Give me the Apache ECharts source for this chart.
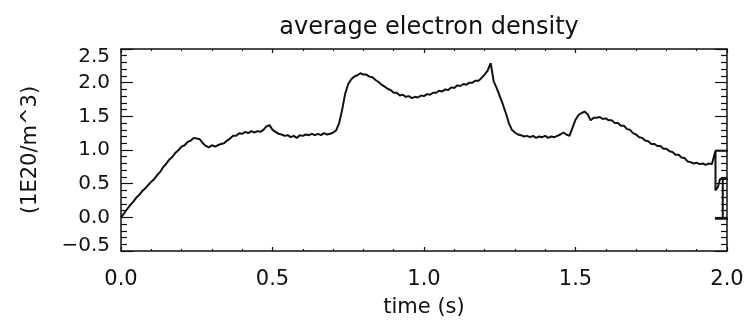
<!DOCTYPE html>
<html><head><meta charset="utf-8">
<script src="https://cdn.jsdelivr.net/npm/echarts@6/dist/echarts.min.js"></script>
<style>html,body{margin:0;padding:0;background:#fff}#c{width:750px;height:324px}</style>
</head><body><div id="c"></div>
<script>
const titleText = 'average electron density';
const xName = 'time (s)';
const yName = '(1E20/m^3)';
const xTickLabels = ['0.0', '0.5', '1.0', '1.5', '2.0'];
const timeStart = 0.0;
const timeStep = 0.01;
const density = [
 0.00,0.06,0.12,0.18,0.23,0.29,0.33,0.39,0.43,0.48,
 0.53,0.57,0.63,0.68,0.75,0.80,0.86,0.90,0.96,1.00,
 1.05,1.07,1.12,1.14,1.18,1.17,1.16,1.10,1.06,1.04,
 1.07,1.05,1.07,1.09,1.10,1.14,1.17,1.21,1.21,1.25,
 1.24,1.27,1.25,1.28,1.26,1.28,1.27,1.30,1.35,1.37,
 1.30,1.27,1.24,1.23,1.21,1.22,1.19,1.21,1.18,1.22,
 1.21,1.23,1.22,1.24,1.22,1.24,1.22,1.25,1.23,1.24,
 1.26,1.29,1.40,1.60,1.84,1.98,2.05,2.09,2.11,2.14,
 2.12,2.12,2.09,2.08,2.04,2.01,1.97,1.94,1.91,1.89,
 1.85,1.85,1.81,1.82,1.79,1.80,1.77,1.79,1.78,1.81,
 1.80,1.83,1.82,1.85,1.85,1.88,1.87,1.90,1.89,1.93,
 1.92,1.96,1.95,1.98,1.97,2.00,2.00,2.03,2.03,2.07,
 2.12,2.18,2.29,2.02,1.92,1.80,1.68,1.55,1.40,1.30,
 1.26,1.23,1.22,1.20,1.21,1.19,1.21,1.18,1.20,1.19,
 1.21,1.18,1.20,1.19,1.21,1.23,1.26,1.23,1.21,1.33,
 1.45,1.52,1.55,1.57,1.53,1.44,1.48,1.48,1.49,1.46,
 1.47,1.44,1.44,1.40,1.40,1.36,1.36,1.31,1.30,1.25,
 1.23,1.19,1.18,1.14,1.13,1.09,1.09,1.06,1.06,1.02,
 1.02,0.98,0.97,0.93,0.93,0.89,0.88,0.83,0.82,0.80,
 0.81,0.79,0.80,0.78,0.80,0.79
];
// end-of-shot trace (clipped at the right edge of the frame)
const tailTime    = [1.955, 1.962, 1.962, 1.970, 1.977, 2.050, 2.050, 1.962, 2.050, 2.050, 1.960, 1.986, 1.986];
const tailDensity = [0.79,  0.99,  0.40,  0.45,  0.57,  0.57,  0.99,  0.99,  0.99, -0.02, -0.02, -0.02,  0.57];

const pts = density.map((v, i) => [+(timeStart + i * timeStep).toFixed(3), v]);
tailTime.forEach((t, i) => pts.push([t, tailDensity[i]]));

const FONT = 'DejaVu Sans';
const INK = '#111';
const axisLineStyle = { show: true, onZero: false, lineStyle: { color: INK, width: 1.5 } };

const chart = echarts.init(document.getElementById('c'), null, { renderer: 'canvas' });
chart.setOption({
  animation: false,
  backgroundColor: '#fff',
  title: {
    text: titleText, left: 424, top: 11, textAlign: 'center',
    textStyle: { fontFamily: FONT, fontSize: 24, fontWeight: 'normal', color: INK }
  },
  grid: { left: 121, right: 23, top: 49, bottom: 73, containLabel: false },
  xAxis: [{
    type: 'value', min: 0, max: 2, interval: 0.5, position: 'bottom',
    name: xName, nameLocation: 'middle', nameGap: 46,
    nameTextStyle: { fontFamily: FONT, fontSize: 21, color: INK },
    axisLine: axisLineStyle,
    axisTick: { show: true, inside: true, length: 4, lineStyle: { color: INK, width: 1.2 } },
    minorTick: { show: true, splitNumber: 5, length: 2, lineStyle: { color: INK, width: 1.2 } },
    splitLine: { show: false },
    axisLabel: { fontFamily: FONT, fontSize: 21, color: INK, margin: 18,
      showMinLabel: true, showMaxLabel: true,
      formatter: v => xTickLabels[Math.round(v / 0.5)] }
  }, {
    type: 'value', min: 0, max: 2, interval: 0.5, position: 'top',
    axisLine: axisLineStyle,
    axisTick: { show: true, inside: true, length: 4, lineStyle: { color: INK, width: 1.2 } },
    minorTick: { show: true, splitNumber: 5, length: 2, lineStyle: { color: INK, width: 1.2 } },
    splitLine: { show: false }, axisLabel: { show: false }
  }],
  yAxis: [{
    type: 'value', min: -0.5, max: 2.5, interval: 0.5, position: 'left',
    name: yName, nameLocation: 'middle', nameGap: 80,
    nameTextStyle: { fontFamily: FONT, fontSize: 21, color: INK },
    axisLine: axisLineStyle,
    axisTick: { show: true, inside: true, length: 12, lineStyle: { color: INK, width: 1.2 } },
    minorTick: { show: true, splitNumber: 5, length: 6, lineStyle: { color: INK, width: 1.2 } },
    splitLine: { show: false },
    axisLabel: { fontFamily: FONT, fontSize: 20, color: INK, margin: 11,
      showMinLabel: true, showMaxLabel: true, hideOverlap: false,
      formatter: v => {
        const s = (v < 0 ? '\u2212' : '') + Math.abs(v).toFixed(1);
        if (v > 2.4) return '{hi|' + s + '}';
        if (v < -0.4) return '{lo|' + s + '}';
        return s;
      },
      rich: {
        hi: { fontFamily: FONT, fontSize: 20, color: INK, padding: [16, 0, 0, 0] },
        lo: { fontFamily: FONT, fontSize: 20, color: INK, padding: [0, 0, 10, 0] }
      }
    }
  }, {
    type: 'value', min: -0.5, max: 2.5, interval: 0.5, position: 'right',
    axisLine: axisLineStyle,
    axisTick: { show: true, inside: true, length: 12, lineStyle: { color: INK, width: 1.2 } },
    minorTick: { show: true, splitNumber: 5, length: 6, lineStyle: { color: INK, width: 1.2 } },
    splitLine: { show: false }, axisLabel: { show: false }
  }],
  series: [{
    type: 'line', data: pts, xAxisIndex: 0, yAxisIndex: 0,
    showSymbol: false, symbol: 'none', clip: true, smooth: false,
    lineStyle: { color: INK, width: 2 }
  }]
});
</script>
</body></html>
